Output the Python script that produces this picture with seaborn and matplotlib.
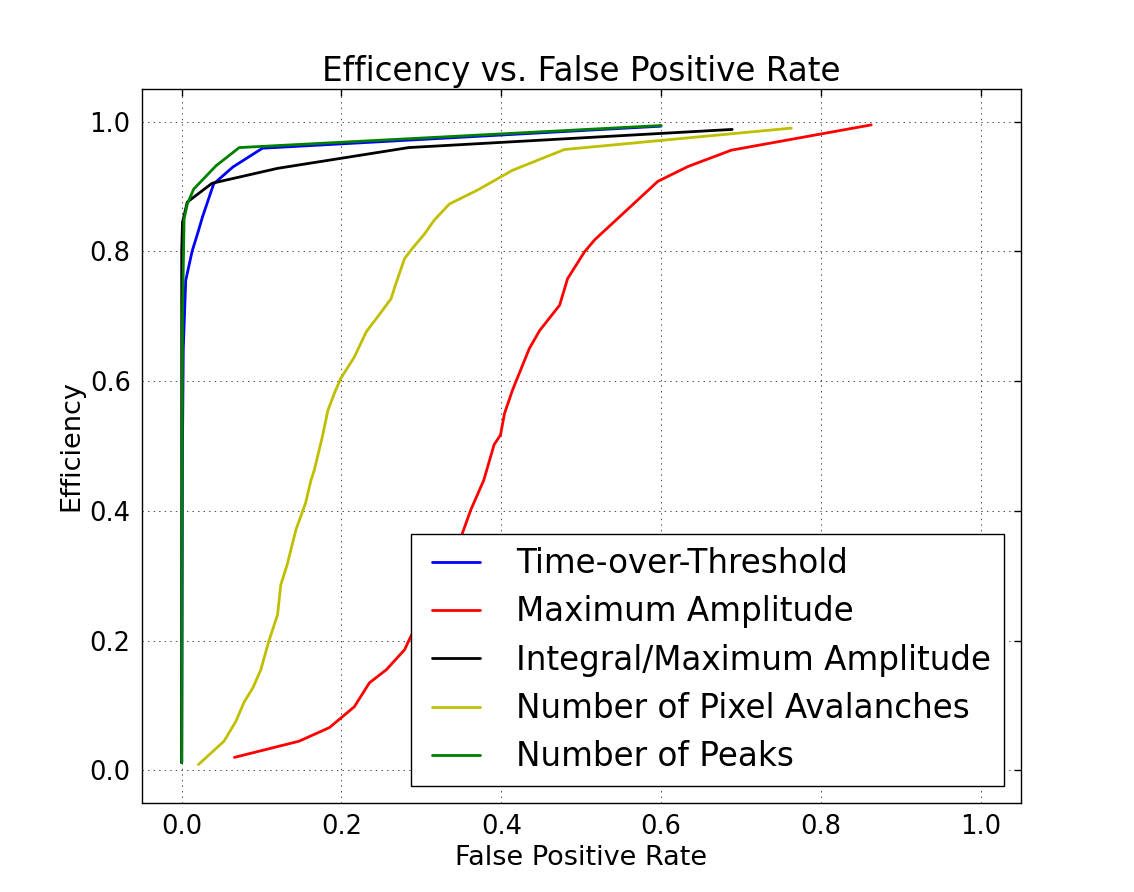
import pandas as pd
import matplotlib
matplotlib.use("Agg")
import matplotlib.pyplot as plt
from matplotlib.lines import Line2D
from matplotlib.legend_handler import HandlerLine2D
import seaborn as sns

# curves (false positive rate vs efficiency)
tot_fpr = [0.0, 0.001, 0.002, 0.005, 0.013, 0.021, 0.026, 0.040, 0.064, 0.101, 0.600]
tot_eff = [0.012, 0.50, 0.65, 0.755, 0.80, 0.832, 0.853, 0.904, 0.930, 0.959, 0.993]

amp_fpr = [0.066, 0.147, 0.185, 0.216, 0.235, 0.256, 0.279, 0.285, 0.350, 0.362,
           0.378, 0.391, 0.399, 0.404, 0.414, 0.435, 0.448, 0.473, 0.483, 0.504,
           0.517, 0.596, 0.634, 0.688, 0.863]
amp_eff = [0.020, 0.045, 0.066, 0.098, 0.135, 0.155, 0.186, 0.202, 0.361, 0.402,
           0.447, 0.502, 0.517, 0.550, 0.586, 0.650, 0.678, 0.717, 0.758, 0.799,
           0.818, 0.908, 0.931, 0.956, 0.995]

int_fpr = [0.0, 0.0, 0.001, 0.007, 0.038, 0.12, 0.284, 0.689]
int_eff = [0.012, 0.80, 0.845, 0.876, 0.905, 0.928, 0.960, 0.988]

aval_fpr = [0.021, 0.053, 0.068, 0.078, 0.089, 0.099, 0.109, 0.120, 0.124, 0.132,
            0.143, 0.155, 0.162, 0.166, 0.176, 0.183, 0.191, 0.199, 0.216, 0.231,
            0.247, 0.262, 0.268, 0.279, 0.287, 0.304, 0.316, 0.335, 0.371, 0.414,
            0.479, 0.763]
aval_eff = [0.009, 0.045, 0.076, 0.105, 0.127, 0.155, 0.199, 0.240, 0.286, 0.317,
            0.371, 0.412, 0.448, 0.463, 0.514, 0.555, 0.581, 0.604, 0.637, 0.676,
            0.702, 0.727, 0.750, 0.789, 0.802, 0.827, 0.848, 0.873, 0.895, 0.925,
            0.957, 0.990]

peak_fpr = [0.0, 0.001, 0.003, 0.007, 0.015, 0.043, 0.072, 0.600]
peak_eff = [0.012, 0.70, 0.85, 0.873, 0.896, 0.932, 0.960, 0.994]

names = ["Time-over-Threshold", "Maximum Amplitude", "Integral/Maximum Amplitude",
         "Number of Pixel Avalanches", "Number of Peaks"]
colors = ["b", "r", "k", "y", "g"]

# long format table for seaborn
frames = []
for name, fpr, eff in zip(names,
                          [tot_fpr, amp_fpr, int_fpr, aval_fpr, peak_fpr],
                          [tot_eff, amp_eff, int_eff, aval_eff, peak_eff]):
    frames.append(pd.DataFrame({"fpr": fpr, "eff": eff, "method": name}))
data = pd.concat(frames, ignore_index=True)

sns.set_style("white")
plt.rcParams["font.family"] = ["DejaVu Sans"]
plt.rcParams["text.color"] = "k"
plt.rcParams["axes.labelcolor"] = "k"
plt.rcParams["xtick.color"] = "k"
plt.rcParams["ytick.color"] = "k"

fig = plt.figure(figsize=(11.34, 8.92), dpi=100, facecolor="white")
ax = fig.add_axes([0.125, 0.1, 0.775, 0.8])

sns.lineplot(data=data, x="fpr", y="eff", hue="method", hue_order=names,
             palette=dict(zip(names, colors)), sort=False, estimator=None,
             linewidth=2, legend=False, ax=ax)

ax.set_xlim(-0.05, 1.05)
ax.set_ylim(-0.05, 1.05)
ax.set_xticks([0.0, 0.2, 0.4, 0.6, 0.8, 1.0])
ax.set_yticks([0.0, 0.2, 0.4, 0.6, 0.8, 1.0])
ax.grid(True, color="k", linestyle=(0, (2, 6)), linewidth=0.5)
ax.tick_params(direction="in", top=True, right=True, length=5, width=1,
               labelsize=18.5, pad=8, colors="k")
for sp in ax.spines.values():
    sp.set_color("k")
    sp.set_linewidth(1)

ax.set_title("Efficency vs. False Positive Rate", fontsize=23.5)
ax.set_xlabel("False Positive Rate", fontsize=19.5)
ax.set_ylabel("Efficiency", fontsize=19.5)

leg = ax.legend(ax.lines, names, loc="lower right", fontsize=23.5,
                fancybox=False, framealpha=1, edgecolor="k",
                handlelength=1.73, handletextpad=1.1, borderpad=0.4,
                labelspacing=0.47, borderaxespad=0.5,
                handler_map={Line2D: HandlerLine2D(xpad=0.25)})
leg.get_frame().set_linewidth(1)

fig.savefig("out.png", dpi=100, facecolor="white")
